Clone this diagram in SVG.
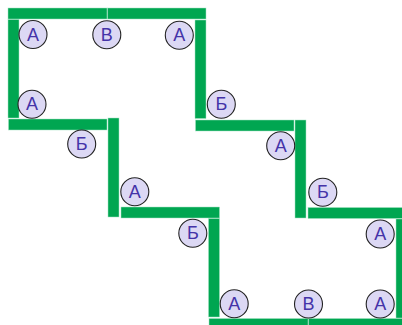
<svg xmlns="http://www.w3.org/2000/svg" width="402" height="325" viewBox="0 0 402 325">
<style>
.b{fill:#00a651;stroke:#a5e3c4;stroke-width:.5}
.n circle{fill:#dcd8f4;stroke:#222;stroke-width:1.1}
.n text{font:18px "Liberation Sans",Arial,sans-serif;fill:#4433a8;text-anchor:middle}
</style>
<rect width="402" height="325" fill="#fff"/>
<g id="connectors">
<rect class="b" x="8" y="8" width="99" height="11"/>
<rect class="b" x="107.500" y="8" width="98.500" height="11"/>
<rect class="b" x="8" y="19.500" width="11" height="98.500"/>
<rect class="b" x="195" y="20" width="11" height="98.500"/>
<rect class="b" x="8.500" y="119" width="98.500" height="11"/>
<rect class="b" x="195.500" y="120" width="98.500" height="11"/>
<rect class="b" x="108" y="118" width="11" height="99"/>
<rect class="b" x="295" y="120" width="11" height="98"/>
<rect class="b" x="121" y="207" width="98.500" height="11"/>
<rect class="b" x="308" y="207.500" width="98" height="11"/>
<rect class="b" x="208.500" y="218.500" width="11" height="98.500"/>
<rect class="b" x="396" y="219" width="11" height="99"/>
<rect class="b" x="209" y="318.500" width="99" height="11"/>
<rect class="b" x="308.500" y="318.500" width="98" height="11"/>
</g>
<g id="n1" class="n"><circle cx="33" cy="34.500" r="14"/><text x="33" y="40.500">А</text></g>
<g id="n2" class="n"><circle cx="106.800" cy="34.700" r="14"/><text x="106.800" y="40.700">В</text></g>
<g id="n3" class="n"><circle cx="179.300" cy="35.300" r="14"/><text x="179.300" y="41.300">А</text></g>
<g id="n4" class="n"><circle cx="32" cy="104.300" r="14"/><text x="32" y="110.300">А</text></g>
<g id="n5" class="n"><circle cx="81.700" cy="144" r="14"/><text x="81.700" y="150">Б</text></g>
<g id="n6" class="n"><circle cx="221.300" cy="104.200" r="14"/><text x="221.300" y="110.200">Б</text></g>
<g id="n7" class="n"><circle cx="280.700" cy="145.700" r="14"/><text x="280.700" y="151.700">А</text></g>
<g id="n8" class="n"><circle cx="322.800" cy="192.300" r="14"/><text x="322.800" y="198.300">Б</text></g>
<g id="n9" class="n"><circle cx="134.800" cy="191.700" r="14"/><text x="134.800" y="197.700">А</text></g>
<g id="n10" class="n"><circle cx="192.800" cy="233.200" r="14"/><text x="192.800" y="239.200">Б</text></g>
<g id="n11" class="n"><circle cx="380.200" cy="234" r="14"/><text x="380.200" y="240">А</text></g>
<g id="n12" class="n"><circle cx="234.200" cy="303.700" r="14"/><text x="234.200" y="309.700">А</text></g>
<g id="n13" class="n"><circle cx="308.500" cy="304" r="14"/><text x="308.500" y="310">В</text></g>
<g id="n14" class="n"><circle cx="380.200" cy="304" r="14"/><text x="380.200" y="310">А</text></g>
</svg>
